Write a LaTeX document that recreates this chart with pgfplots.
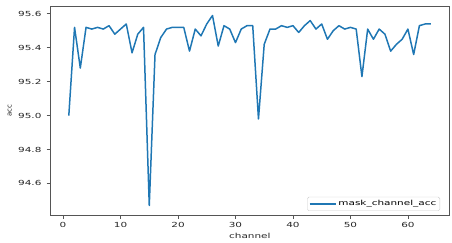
\documentclass[border=0pt]{standalone}
\usepackage{fontspec}
\setmainfont{DejaVu Sans}
\usepackage{pgfplots}
\pgfplotsset{compat=1.18}
\definecolor{mplblue}{HTML}{1F77B4}
\definecolor{axgray}{HTML}{555555}
\begin{document}
\begin{tikzpicture}
\begin{axis}[
  at={(0,0)}, anchor=south west,
  scale only axis,
  width=398.3bp, height=209bp,
  xmin=-2.15, xmax=67.15,
  ymin=94.414, ymax=95.646,
  xtick={0,10,20,30,40,50,60},
  ytick={94.6,94.8,95.0,95.2,95.4,95.6},
  yticklabel style={/pgf/number format/fixed,/pgf/number format/fixed zerofill,/pgf/number format/precision=1},
  /pgf/number format/assume math mode=true,
  tick align=outside,
  major tick length=4bp,
  tick pos=lower,
  axis line style={axgray, line width=0.8pt},
  every tick/.style={axgray, line width=0.7pt},
  ticklabel style={font=\fontsize{7}{8}\selectfont, text=black!85, xscale=1.5},
  xlabel={\scalebox{1.5}[1]{channel}},
  ylabel={acc},
  label style={font=\fontsize{7}{8}\selectfont, text=black!85},
  xlabel style={yshift=1bp},
  ylabel style={yshift=-2bp},
  legend style={at={(1,0)}, anchor=south east, xshift=-9bp, yshift=4bp,
    draw=black!20, rounded corners=1.5pt, font=\fontsize{7}{8}\selectfont,
    inner sep=1.5pt},
  legend cell align=left,
  legend image code/.code={\draw[#1] (0bp,0bp) -- (26bp,0bp);},
]
\addplot[mplblue, line width=1.5pt, line join=round] coordinates {
(1,95.00) (2,95.52) (3,95.28) (4,95.52) (5,95.51) (6,95.52) (7,95.51) (8,95.53)
(9,95.48) (10,95.51) (11,95.54) (12,95.37) (13,95.48) (14,95.52) (15,94.47) (16,95.36)
(17,95.46) (18,95.51) (19,95.52) (20,95.52) (21,95.52) (22,95.38) (23,95.51) (24,95.47)
(25,95.54) (26,95.59) (27,95.41) (28,95.53) (29,95.51) (30,95.43) (31,95.51) (32,95.53)
(33,95.53) (34,94.98) (35,95.42) (36,95.51) (37,95.51) (38,95.53) (39,95.52) (40,95.53)
(41,95.49) (42,95.53) (43,95.56) (44,95.51) (45,95.54) (46,95.45) (47,95.50) (48,95.53)
(49,95.51) (50,95.52) (51,95.51) (52,95.23) (53,95.51) (54,95.45) (55,95.51) (56,95.48)
(57,95.38) (58,95.42) (59,95.45) (60,95.51) (61,95.36) (62,95.53) (63,95.54) (64,95.54)
};
\addlegendentry{\scalebox{1.5}[1]{mask\_channel\_acc}}
\end{axis}
\path[use as bounding box] (-50.7bp,-25bp) rectangle (401.3bp,215bp);
\end{tikzpicture}
\end{document}
